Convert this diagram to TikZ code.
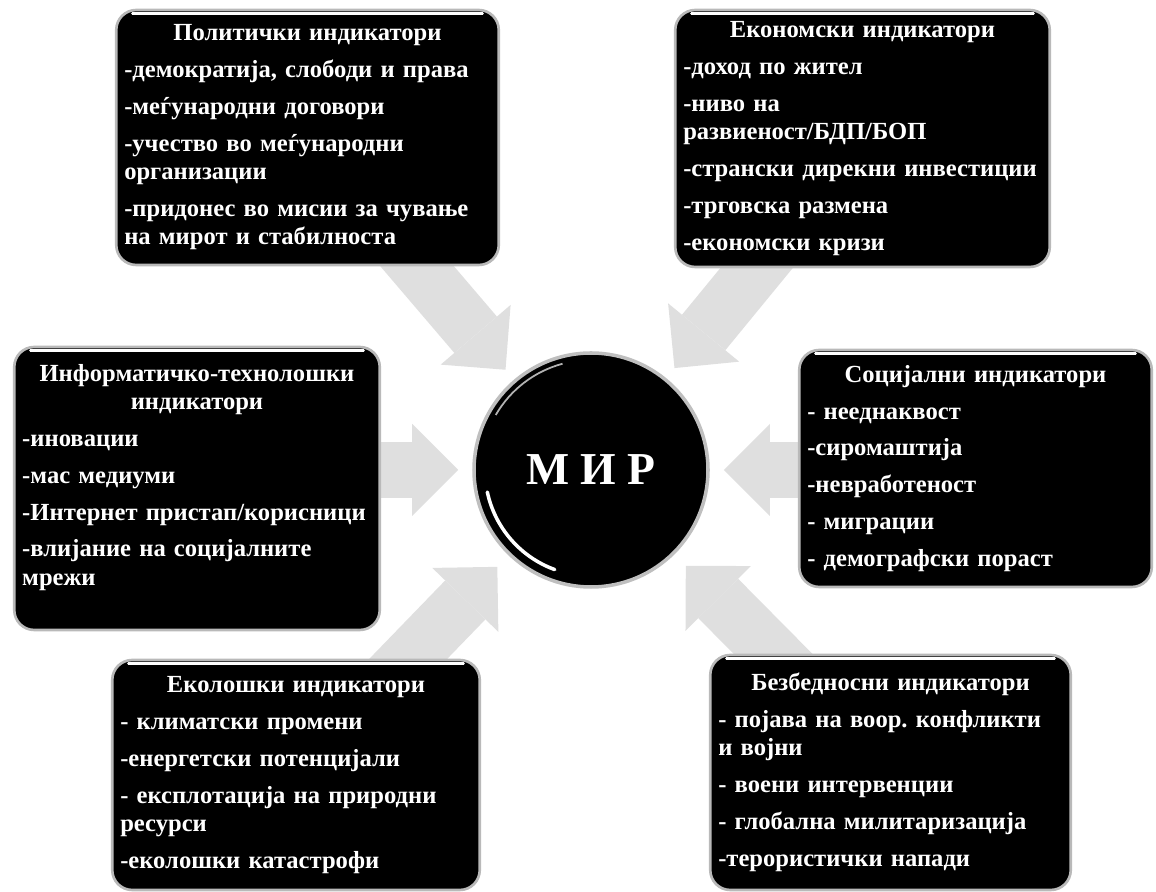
\documentclass[tikz,border=0pt]{standalone}
\usepackage{fontspec}
\setmainfont{Liberation Serif}
\usetikzlibrary{arrows.meta,backgrounds}
\frenchspacing
\newcommand\boxtitle[1]{{\centering #1\par}\vspace{5pt}}
\newcommand\gap{\par\vspace{5pt}}
\begin{document}
\begin{tikzpicture}[
	indbox/.style={rectangle, rounded corners=0.4cm, fill=black, draw=gray!55, line width=1.5pt, text=white, align=left, inner xsep=0.16cm, inner ysep=0.1cm, font=\bfseries\fontsize{14}{16}\selectfont},
	pointer/.style={-{Triangle[length=0.92cm,width=1.84cm,line width=0pt]}, draw=gray!25, line width=1.12cm, shorten <=-0.6cm},
	gloss/.style={white, line width=1.5pt, line cap=round}
	]
	\useasboundingbox (0,0) rectangle (23.12,17.84);
	
	\node [circle, fill=black, draw=gray!50, line width=2pt, minimum size=4.68cm, text=white, font=\bfseries\fontsize{26}{30}\selectfont] (mir) at (11.82,8.44) {М И Р};
	
	\node [indbox, text width=7.33cm, minimum height=5.1cm] (pol) at (6.15,15.09) {\boxtitle{Политички индикатори}-демократија, слободи и права\gap -меѓународни договори\gap -учество во меѓународни\\организации\gap -придонес во мисии за чување\\на мирот и стабилноста};
	\node [indbox, text width=7.17cm, minimum height=5.14cm] (eco) at (17.25,15.07) {\boxtitle{Економски индикатори}-доход по жител\gap -ниво на\\развиеност/БДП/БОП\gap -странски дирекни инвестиции\gap -трговска размена\gap -економски кризи};
	\node [indbox, text width=6.99cm, minimum height=5.66cm] (inf) at (3.94,8.07) {\boxtitle{Информатичко-технолошки\\индикатори}-иновации\gap -мас медиуми\gap -Интернет пристап/корисници\gap -влијание на социјалните\\мрежи\par\vspace{0.45cm}};
	\node [indbox, text width=6.73cm, minimum height=4.74cm] (soc) at (19.51,8.47) {\boxtitle{Социјални индикатори}- нееднаквост\gap -сиромаштија\gap -невработеност\gap - миграции\gap - демографски пораст};
	\node [indbox, text width=7.03cm, minimum height=4.6cm] (ecol) at (5.92,2.34) {\boxtitle{Еколошки индикатори}- климатски промени\gap -енергетски потенцијали\gap - експлотација на природни\\ресурси\gap -еколошки катастрофи};
	\node [indbox, text width=6.89cm, minimum height=4.7cm] (sec) at (17.81,2.39) {\boxtitle{Безбедносни индикатори}- појава на воор. конфликти\\и војни\gap - воени интервенции\gap - глобална милитаризација\gap -терористички напади};
	
	\draw [gloss] ([xshift=0.35cm,yshift=-0.1cm]pol.north west) -- ([xshift=-0.35cm,yshift=-0.1cm]pol.north east);
	\draw [gloss] ([xshift=0.35cm,yshift=-0.1cm]eco.north west) -- ([xshift=-0.35cm,yshift=-0.1cm]eco.north east);
	\draw [gloss] ([xshift=0.35cm,yshift=-0.1cm]inf.north west) -- ([xshift=-0.35cm,yshift=-0.1cm]inf.north east);
	\draw [gloss] ([xshift=0.35cm,yshift=-0.1cm]soc.north west) -- ([xshift=-0.35cm,yshift=-0.1cm]soc.north east);
	\draw [gloss] ([xshift=0.35cm,yshift=-0.1cm]ecol.north west) -- ([xshift=-0.35cm,yshift=-0.1cm]ecol.north east);
	\draw [gloss] ([xshift=0.35cm,yshift=-0.1cm]sec.north west) -- ([xshift=-0.35cm,yshift=-0.1cm]sec.north east);
	
	\draw [gloss, line width=2pt] (mir.center) ++(192:2.12cm) arc [start angle=192, end angle=250, radius=2.12cm];
	\draw [gray!60, line width=1pt] (mir.center) ++(105:2.2cm) arc [start angle=105, end angle=150, radius=2.2cm];
	
	\begin{scope}[on background layer]
		\draw [pointer, shorten >=0.26cm] (pol) -- (mir);
		\draw [pointer, shorten >=0.26cm] (eco) -- (mir);
		\draw [pointer, shorten >=0.28cm] (inf.east |- mir) -- (mir);
		\draw [pointer, shorten >=0.28cm] (soc.west |- mir) -- (mir);
		\draw [pointer, shorten >=0.32cm] (ecol) -- (mir);
		\draw [pointer, shorten >=0.32cm] (sec) -- (mir);
	\end{scope}
\end{tikzpicture}
\end{document}
